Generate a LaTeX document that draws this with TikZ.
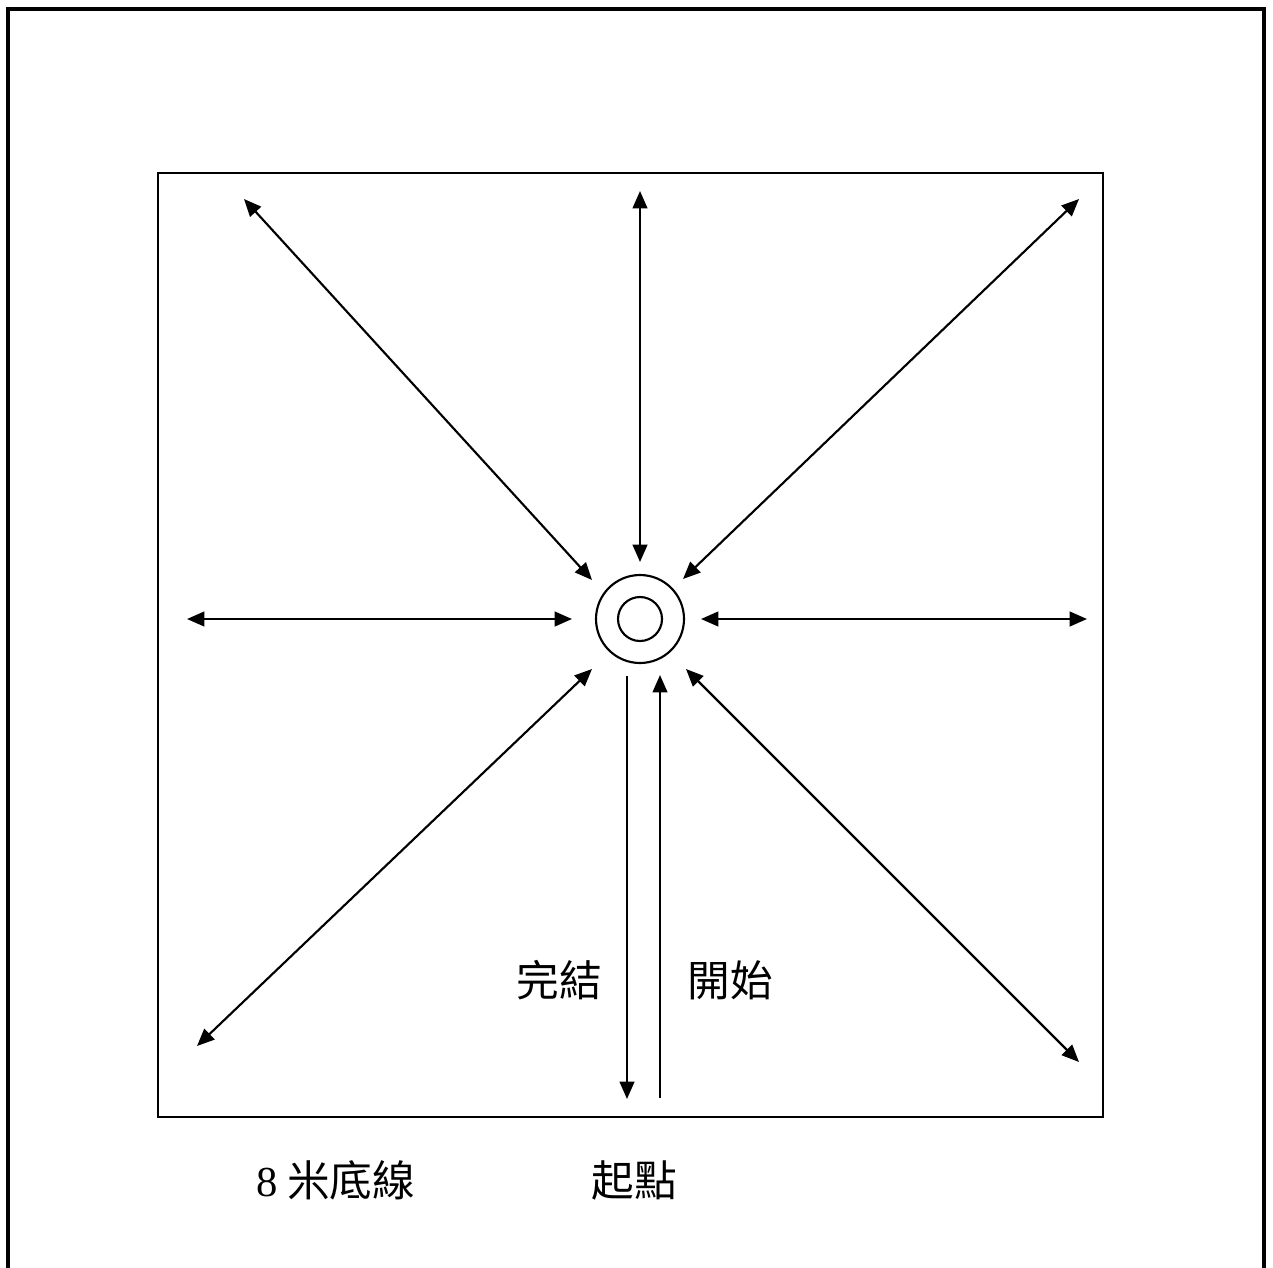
\documentclass[tikz,border=0pt]{standalone}
\usepackage{fontspec}
\setmainfont{Liberation Serif}
\newfontfamily\cjk{Noto Sans CJK TC}
\usetikzlibrary{arrows.meta}
\tikzset{
  frame/.style={line width=2.4pt},
  boxline/.style={line width=1.9pt},
  tip/.tip={Triangle[length=13pt,width=11pt]},
  arr/.style={line width=1.6pt, -tip},
  darr/.style={line width=1.6pt, tip-tip},
  ring/.style={circle, draw, line width=1.6pt, inner sep=0pt},
  lbl/.style={font=\fontsize{32}{36}\selectfont\cjk, inner sep=0pt}
}
\begin{document}
\begin{tikzpicture}[x=0.75pt,y=-0.75pt]
\useasboundingbox (0,0) rectangle (1273,1267);
% outer frame (open at the bottom)
\draw[frame] (8,1275) -- (8,9) -- (1264,9) -- (1264,1275);
% inner square
\draw[boxline] (158,173) rectangle (1103,1117);
% centre rings
\node[ring, minimum size=66pt] (outer) at (640,619) {};
\node[ring, minimum size=33pt] (inner) at (640,619) {};
% end points
\coordinate (tA) at (640,191);   \coordinate (tB) at (640,562);
\coordinate (tlA) at (244,199);  \coordinate (tlB) at (592,580);
\coordinate (trA) at (1079,199); \coordinate (trB) at (683,579);
\coordinate (lA) at (187,619);   \coordinate (lB) at (572,619);
\coordinate (rA) at (1087,619);  \coordinate (rB) at (701,619);
\coordinate (blA) at (197,1046); \coordinate (blB) at (592,669);
\coordinate (brA) at (1079,1062);\coordinate (brB) at (686,669);
\coordinate (dA) at (627,676);   \coordinate (dB) at (627,1099);
\coordinate (uA) at (660,1098);  \coordinate (uB) at (660,675);
% arrows
\draw[darr] (tA) -- (tB);
\draw[darr] (tlA) -- (tlB);
\draw[darr] (trA) -- (trB);
\draw[darr] (lA) -- (lB);
\draw[darr] (rA) -- (rB);
\draw[darr] (blA) -- (blB);
\draw[darr] (brA) -- (brB);
\draw[arr] (dA) -- (dB);
\draw[arr] (uA) -- (uB);
% labels
\node[lbl] (fin) at (559,980) {完結};
\node[lbl] (start) at (730,980) {開始};
\node[lbl, anchor=west] (base) at (256,1180) {{\rmfamily 8} 米底線};
\node[lbl] (origin) at (634,1180) {起點};
\end{tikzpicture}
\end{document}
